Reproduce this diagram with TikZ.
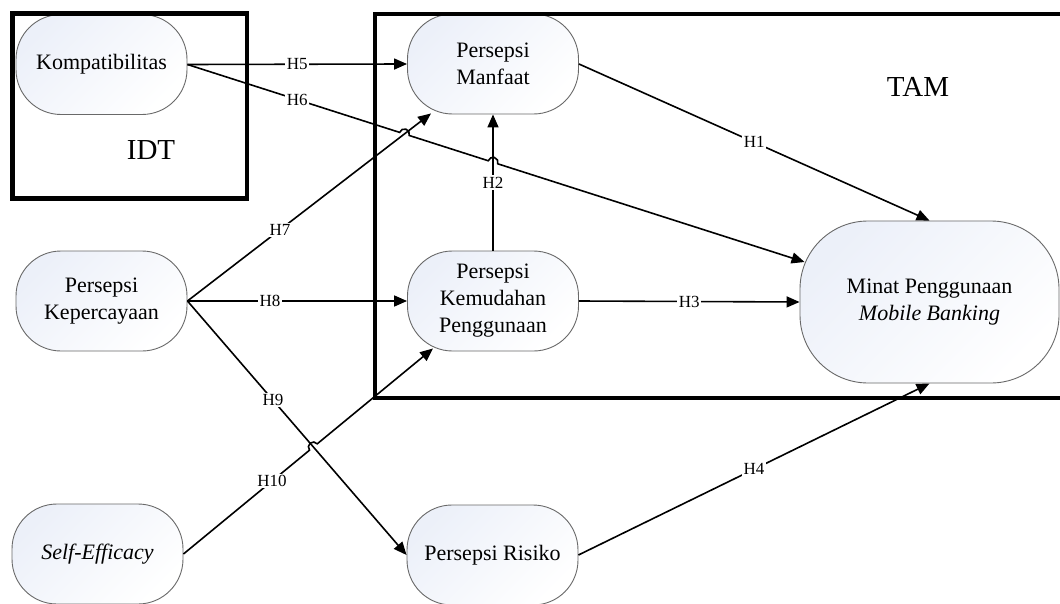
\documentclass[tikz,border=0pt]{standalone}
\usepackage{fontspec}
\setmainfont{Liberation Serif}
\usetikzlibrary{arrows.meta,calc,intersections}
\definecolor{shadeblue}{RGB}{236,240,249}
\definecolor{ndborder}{RGB}{105,105,105}
\tikzset{
  nd/.style={draw=ndborder, line width=0.9pt, rounded corners=45pt,
    top color=shadeblue, bottom color=white, shading angle=45,
    minimum width=171pt, minimum height=100pt, align=center,
    font=\fontsize{22}{27}\selectfont, inner sep=0pt},
  conn/.style={line width=1.6pt, -{Triangle[length=13pt,width=11pt]}},
  lbl/.style={fill=white, inner sep=1.5pt, font=\fontsize{17}{20}\selectfont},
  framebox/.style={line width=4.5pt},
  framelabel/.style={font=\fontsize{29}{32}\selectfont, inner sep=0pt},
}
\begin{document}
\begin{tikzpicture}[x=1pt,y=-1pt]
\clip (0,0) rectangle (1060,604);
\fill[white] (0,0) rectangle (1060,604);

% nodes
\node[nd] (komp) at (101.5,64.5) {Kompatibilitas};
\node[nd] (man) at (493,64) {Persepsi\\Manfaat};
\node[nd] (kep) at (101.5,301) {Persepsi\\Kepercayaan};
\node[nd] (kem) at (493,301) {Persepsi\\Kemudahan\\Penggunaan};
\node[nd, minimum width=259pt, minimum height=162pt, rounded corners=68pt] (minat) at (929.5,302) {Minat Penggunaan\\\textit{Mobile Banking}};
\node[nd] (self) at (97.5,554) {\textit{Self-Efficacy}};
\node[nd] (risk) at (492.5,555) {Persepsi Risiko};

% frames
\draw[framebox] (12.5,13.5) rectangle (247,198.5);
\draw[framebox] (375,14) rectangle (1075,398);
\node[framelabel] (idt) at (151,150) {IDT};
\node[framelabel] (tam) at (918,87) {TAM};

% arrow end points on node borders
\coordinate (t6) at ([xshift=5pt,yshift=40pt]minat.west);
\coordinate (t7) at ([xshift=24pt,yshift=1pt]man.south west);
\coordinate (t10) at ([xshift=26pt,yshift=3pt]kem.south west);

% straight connectors
\draw[conn] (komp.east) -- node[lbl,pos=0.5] {H5} (man.west);
\draw[conn] (kep.east) -- node[lbl,pos=0.38] {H7} (t7);
\draw[conn] (kep.east) -- node[lbl,pos=0.376] {H8} (kem.west);
\draw[conn] (kep.east) -- node[lbl,pos=0.39] {H9} (risk.west);
\draw[conn] (man.east) -- node[lbl,pos=0.5] {H1} (minat.north);
\draw[conn] (kem.north) -- node[lbl,pos=0.5] {H2} (man.south);
\draw[conn] (kem.east) -- node[lbl,pos=0.5] {H3} (minat.west);
\draw[conn] (risk.east) -- node[lbl,pos=0.5] {H4} (minat.south);

% intersections for line jumps
\path[name path=p6] (komp.east) -- (t6);
\path[name path=p7] (kep.east) -- (t7);
\path[name path=p2] (kem.north) -- (man.south);
\path[name path=p9] (kep.east) -- (risk.west);
\path[name path=p10] (self.east) -- (t10);
\path[name intersections={of=p6 and p7, by=j67}];
\path[name intersections={of=p6 and p2, by=j62}];
\path[name intersections={of=p10 and p9, by=j109}];

% H6 with two jumps
\draw[conn] let \p1=($(t6)-(komp.east)$), \n1={atan2(\y1,\x1)} in
  (komp.east) -- ($(j67)!5pt!(komp.east)$)
  arc[start angle=\n1+180, end angle=\n1, radius=5pt]
  -- ($(j62)!5pt!(komp.east)$)
  arc[start angle=\n1+180, end angle=\n1, radius=5pt]
  -- (t6);
\node[lbl] (l6) at ($(komp.east)!0.178!(t6)$) {H6};

% H10 with one jump
\draw[conn] let \p1=($(t10)-(self.east)$), \n1={atan2(\y1,\x1)} in
  (self.east) -- ($(j109)!5pt!(self.east)$)
  arc[start angle=\n1+180, end angle=\n1, radius=5pt]
  -- (t10);
\node[lbl] (l10) at ($(self.east)!0.355!(t10)$) {H10};
\end{tikzpicture}
\end{document}
